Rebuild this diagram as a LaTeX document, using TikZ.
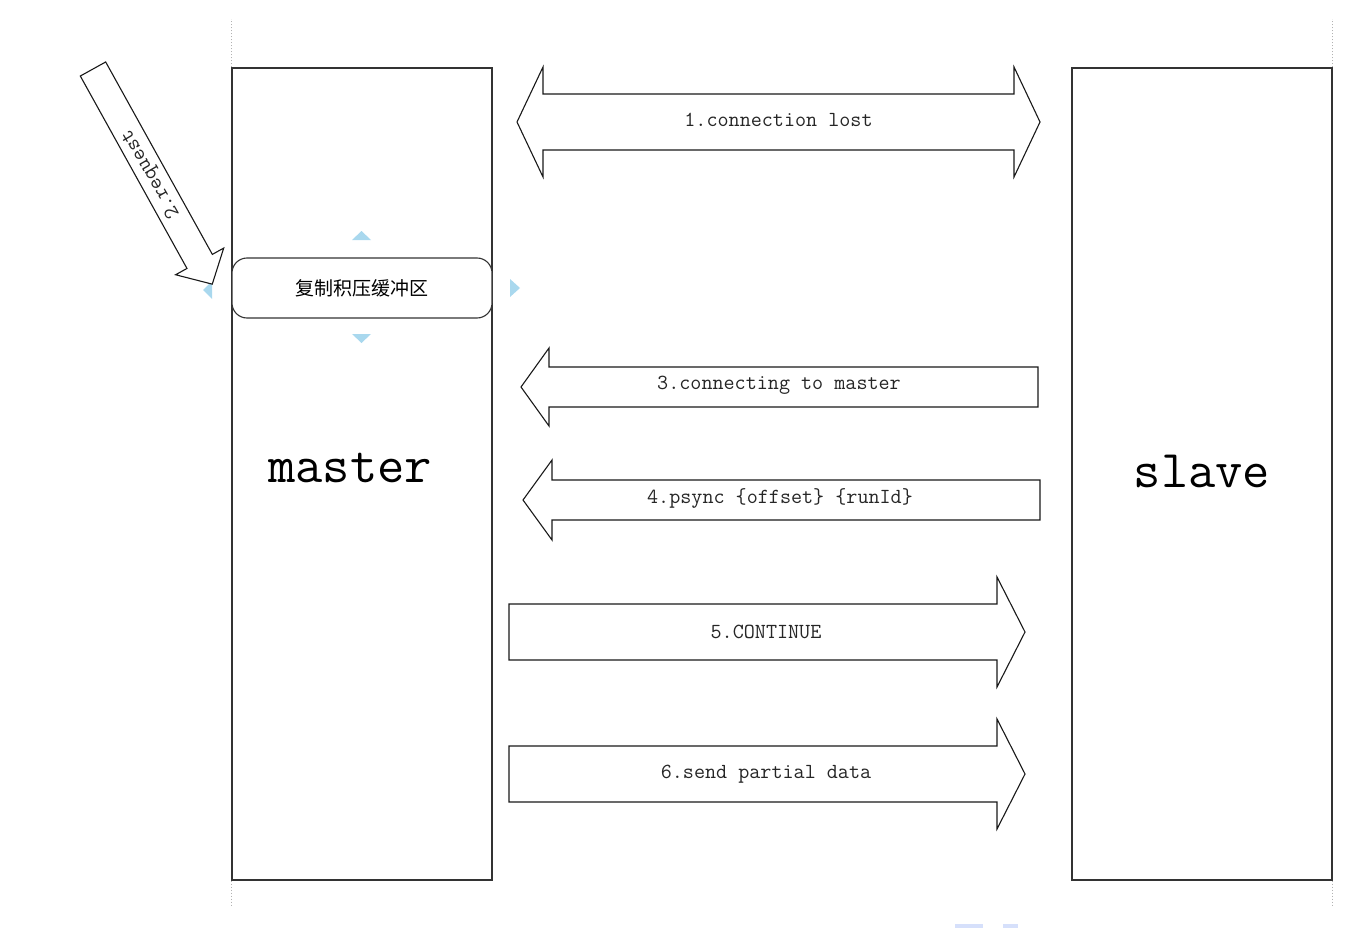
\documentclass[tikz,border=0pt]{standalone}
\usepackage{fontspec}
\newfontfamily\cjkfont{Noto Sans CJK SC}

\definecolor{hintblue}{HTML}{A9D8EE}
\definecolor{boxline}{HTML}{333333}

% block arrow pointing along +x: length, shaft half, head half, head length
\newcommand{\blockarrow}[4]{%
    \draw[arrowline] (0,-#2) -- (#1-#4,-#2) -- (#1-#4,-#3) -- (#1,0) -- (#1-#4,#3) -- (#1-#4,#2) -- (0,#2) -- cycle;}
\newcommand{\twowayarrow}[4]{%
    \draw[arrowline] (#4,-#2) -- (#1-#4,-#2) -- (#1-#4,-#3) -- (#1,0) -- (#1-#4,#3) -- (#1-#4,#2)
        -- (#4,#2) -- (#4,#3) -- (0,0) -- (#4,-#3) -- cycle;}

\tikzset{
    endpoint/.style={draw=boxline, line width=1.4pt, minimum width=260pt, minimum height=812pt, inner sep=0pt},
    bigname/.style={font=\ttfamily\fontsize{53}{58}\selectfont, inner sep=0pt},
    buffer/.style={draw=boxline, line width=1.1pt, fill=white, rounded corners=15pt, minimum width=260pt, minimum height=60pt, font=\cjkfont\fontsize{19}{22}\selectfont},
    arrowline/.style={draw=black!90, line width=1.1pt, fill=white, line join=miter},
    msgtext/.style={font=\ttfamily\fontsize{21.5}{24}\selectfont, text=black!85, inner sep=0pt},
    guide/.style={gray!60, dotted, line width=1pt},
}

\begin{document}
\begin{tikzpicture}[x=1pt, y=-1pt]
    \useasboundingbox (0,0) rectangle (1356,928);

    % master and slave
    \node[endpoint] (master) at (362,474) {};
    \node[endpoint] (slave) at (1202,474) {};
    \node[bigname, anchor=base] (mastername) at (350,482) {master};
    \node[bigname, anchor=base] (slavename) at (1202,487) {slave};

    \draw[guide] (master.north west) -- ++(0,-48);
    \draw[guide] (master.south west) -- ++(0,25);
    \draw[guide] (slave.north east) -- ++(0,-48);
    \draw[guide] (slave.south east) -- ++(0,25);

    % backlog buffer
    \node[buffer] (backlog) at (362,288) {复制积压缓冲区};
    \fill[hintblue] (352,240) -- (361.5,231) -- (371,240) -- cycle;
    \fill[hintblue] (352,334) -- (361.5,343) -- (371,334) -- cycle;
    \fill[hintblue] (510,279) -- (520,288) -- (510,297) -- cycle;
    \fill[hintblue] (212,281) -- (203,290) -- (212,299) -- cycle;

    % 2. request
    \begin{scope}[shift={(93,69)}, rotate=-61]
        \blockarrow{246}{14.5}{27.5}{26}
    \end{scope}
    \node[msgtext, rotate=120] (request) at (151,174) {2.request};

    % messages between master and slave
    \begin{scope}[shift={(517,122)}]
        \twowayarrow{523}{28}{55}{26}
    \end{scope}
    \node[msgtext] (lost) at (778.5,120) {1.connection lost};

    \begin{scope}[shift={(1038,387)}, xscale=-1]
        \blockarrow{517}{20}{39}{28}
    \end{scope}
    \node[msgtext] (connecting) at (779,385) {3.connecting to master};

    \begin{scope}[shift={(1040,500)}, xscale=-1]
        \blockarrow{517}{20}{40}{29}
    \end{scope}
    \node[msgtext] (psync) at (780,498) {4.psync \{offset\} \{runId\}};

    \begin{scope}[shift={(509,632)}]
        \blockarrow{516}{28}{55}{28}
    \end{scope}
    \node[msgtext] (continue) at (766,632) {5.CONTINUE};

    \begin{scope}[shift={(509,774)}]
        \blockarrow{516}{28}{55}{28}
    \end{scope}
    \node[msgtext] (partial) at (766,774) {6.send partial data};

    \fill[hintblue!70!blue!30] (955,924) rectangle (983,928);
    \fill[hintblue!70!blue!30] (1003,924) rectangle (1018,928);
\end{tikzpicture}
\end{document}
